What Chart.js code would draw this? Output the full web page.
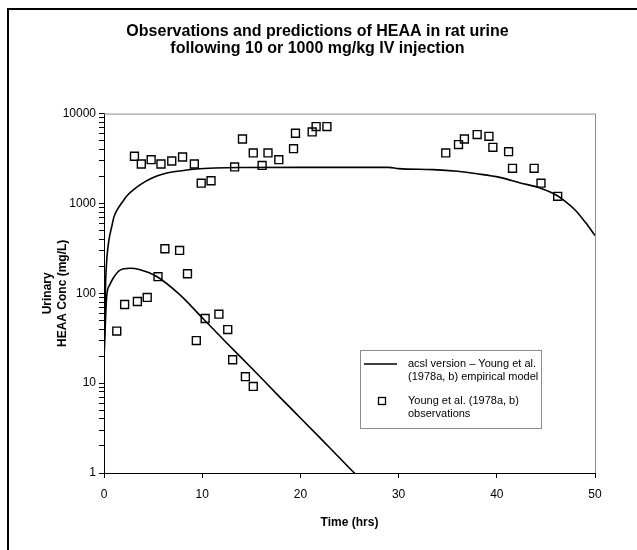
<!DOCTYPE html>
<html>
<head>
<meta charset="utf-8">
<script src="https://cdn.jsdelivr.net/npm/chart.js@4"></script>
<style>
  html, body { margin: 0; padding: 0; background: #fff; }
  #wrap { width: 637px; height: 550px; }
</style>
</head>
<body>
<div id="wrap"><canvas id="heaaChart" width="637" height="550"></canvas></div>
<script>
// Curva do modelo, dose 1000 mg/kg (tempo em horas, conc. em mg/L)
const highModelTime = [0, 0.15, 0.3, 0.5, 0.8, 1.0, 1.4, 1.8, 2.3, 2.8, 3.7, 4.9, 6.4, 8.1, 9.4, 11.3, 14, 20, 29, 30, 33.5, 36, 38, 40.3, 42.4, 44.4, 46, 47, 48, 49, 50];
const highModelConc = [18, 120, 250, 390, 560, 700, 870, 1010, 1200, 1360, 1620, 1920, 2180, 2330, 2420, 2480, 2510, 2520, 2520, 2440, 2380, 2280, 2140, 1950, 1690, 1490, 1250, 1050, 840, 620, 440];

// Curva do modelo, dose 10 mg/kg
const lowModelTime = [0, 0.15, 0.27, 0.6, 0.95, 1.6, 2.65, 3.67, 5.37, 7.74, 10.1, 12.5, 14.9, 17.9, 20, 22, 24, 25.5, 26];
const lowModelConc = [18, 50, 92, 125, 148, 180, 190, 183, 154, 96, 52, 28, 15.2, 7.0, 4.1, 2.46, 1.47, 1.0, 0.9];

// Observacoes - 1000 mg/kg
const highObsTime = [3.1, 3.8, 4.8, 5.8, 6.9, 8.0, 9.2, 9.9, 10.9, 13.3, 14.1, 15.2, 16.1, 16.7, 17.8, 19.3, 19.5, 21.2, 21.6, 22.7, 34.8, 36.1, 36.7, 38.0, 39.2, 39.6, 41.2, 41.6, 43.8, 44.5, 46.2];
const highObsConc = [3350, 2750, 3070, 2750, 2970, 3290, 2750, 1680, 1790, 2550, 5220, 3650, 2650, 3650, 3070, 4070, 6040, 6250, 7170, 7170, 3650, 4520, 5220, 5840, 5590, 4210, 3770, 2460, 2460, 1680, 1200];

// Observacoes - 10 mg/kg
const lowObsTime = [1.3, 2.1, 3.4, 4.4, 5.5, 6.2, 7.7, 8.5, 9.4, 10.3, 11.7, 12.6, 13.1, 14.4, 15.2];
const lowObsConc = [38, 75, 81, 90, 153, 313, 300, 165, 29.8, 52.4, 58.6, 39.5, 18.2, 11.8, 9.2];

// Ticks dos eixos
const xTicks = [0, 10, 20, 30, 40, 50];
const yMajorTicks = [1, 10, 100, 1000, 10000];

const legendLine = ['acsl version \u2013 Young et al.', '(1978a, b) empirical model'];
const legendObs = ['Young et al. (1978a, b)', 'observations'];

const toPoints = (xs, ys) => xs.map((x, i) => ({ x: x, y: ys[i] }));

const FONT = 'Arial, "Liberation Sans", sans-serif';

// Moldura externa, borda cinza do grafico e legenda
const decorPlugin = {
  id: 'decor',
  beforeDatasetsDraw(chart) {
    const { ctx, chartArea: a } = chart;
    ctx.save();
    ctx.strokeStyle = '#8c8c8c';
    ctx.lineWidth = 1;
    ctx.beginPath();
    ctx.moveTo(a.left, a.top + 0.5);
    ctx.lineTo(a.right + 0.5, a.top + 0.5);
    ctx.lineTo(a.right + 0.5, a.bottom);
    ctx.stroke();
    ctx.restore();
  },
  afterDraw(chart) {
    const ctx = chart.ctx;
    ctx.save();
    // moldura preta
    ctx.strokeStyle = '#000';
    ctx.lineWidth = 2;
    ctx.beginPath();
    ctx.moveTo(8, 550);
    ctx.lineTo(8, 9);
    ctx.lineTo(637, 9);
    ctx.stroke();

    // caixa da legenda
    const bx = 360.5, by = 350.5, bw = 181, bh = 78;
    ctx.fillStyle = '#fff';
    ctx.fillRect(bx, by, bw, bh);
    ctx.strokeStyle = '#8c8c8c';
    ctx.lineWidth = 1;
    ctx.strokeRect(bx, by, bw, bh);

    ctx.strokeStyle = '#000';
    ctx.lineWidth = 1.5;
    ctx.beginPath();
    ctx.moveTo(364, 364);
    ctx.lineTo(397, 364);
    ctx.stroke();

    ctx.lineWidth = 1.3;
    ctx.strokeRect(378.5, 397.5, 7, 7);

    ctx.fillStyle = '#000';
    ctx.font = '11px ' + FONT;
    ctx.textBaseline = 'middle';
    ctx.textAlign = 'left';
    ctx.fillText(legendLine[0], 408, 364);
    ctx.fillText(legendLine[1], 408, 377);
    ctx.fillText(legendObs[0], 408, 401);
    ctx.fillText(legendObs[1], 408, 414);
    ctx.restore();
  }
};

const ctx = document.getElementById('heaaChart').getContext('2d');
new Chart(ctx, {
  type: 'scatter',
  data: {
    datasets: [
      {
        type: 'line',
        data: toPoints(highModelTime, highModelConc),
        borderColor: '#000',
        borderWidth: 1.6,
        pointRadius: 0,
        cubicInterpolationMode: 'monotone',
        fill: false,
      },
      {
        type: 'line',
        data: toPoints(lowModelTime, lowModelConc),
        borderColor: '#000',
        borderWidth: 1.6,
        pointRadius: 0,
        cubicInterpolationMode: 'monotone',
        fill: false,
      },
      {
        data: toPoints(highObsTime, highObsConc).concat(toPoints(lowObsTime, lowObsConc)),
        pointStyle: 'rect',
        pointRadius: 5.6,
        backgroundColor: 'rgba(255,255,255,0)',
        borderColor: '#000',
        borderWidth: 1.4,
      },
    ],
  },
  options: {
    responsive: false,
    animation: false,
    events: [],
    layout: { padding: { left: 40, right: 42, top: 0, bottom: 14 } },
    plugins: {
      legend: { display: false },
      tooltip: { enabled: false },
      title: {
        display: true,
        text: ['Observations and predictions of HEAA in rat urine', 'following 10 or 1000 mg/kg IV injection'],
        color: '#000',
        font: { family: FONT, size: 16, weight: 'bold', lineHeight: 1.05 },
        padding: { top: 23, bottom: 57 },
      },
    },
    scales: {
      x: {
        type: 'linear',
        min: 0,
        max: 50,
        afterBuildTicks: (scale) => { scale.ticks = xTicks.map((v) => ({ value: v })); },
        afterFit: (scale) => { scale.height = 63; },
        border: { color: '#000', width: 1 },
        grid: { drawOnChartArea: false, color: '#000', tickLength: 5 },
        ticks: { color: '#000', font: { family: FONT, size: 12 }, padding: 9, maxRotation: 0 },
        title: {
          display: true,
          text: 'Time (hrs)',
          color: '#000',
          font: { family: FONT, size: 12, weight: 'bold' },
          padding: { top: 0, bottom: 6 },
        },
      },
      y: {
        type: 'logarithmic',
        min: 1,
        max: 10000,
        afterBuildTicks: (scale) => {
          const t = [];
          for (const d of yMajorTicks.slice(0, -1)) {
            for (let k = 1; k < 10; k++) t.push({ value: d * k, major: k === 1 });
          }
          t.push({ value: 10000, major: true });
          scale.ticks = t;
        },
        afterFit: (scale) => { scale.width = 64; },
        border: { color: '#000', width: 1 },
        grid: { drawOnChartArea: false, color: '#000', tickLength: 5 },
        ticks: {
          color: '#000',
          font: { family: FONT, size: 12 },
          padding: 3,
          autoSkip: false,
          callback: (v) => (yMajorTicks.includes(v) ? String(v) : ''),
        },
        title: {
          display: true,
          text: ['Urinary', 'HEAA Conc (mg/L)'],
          color: '#000',
          font: { family: FONT, size: 12, weight: 'bold', lineHeight: 1.25 },
          padding: { top: 0, bottom: 0 },
        },
      },
    },
  },
  plugins: [decorPlugin],
});
</script>
</body>
</html>
